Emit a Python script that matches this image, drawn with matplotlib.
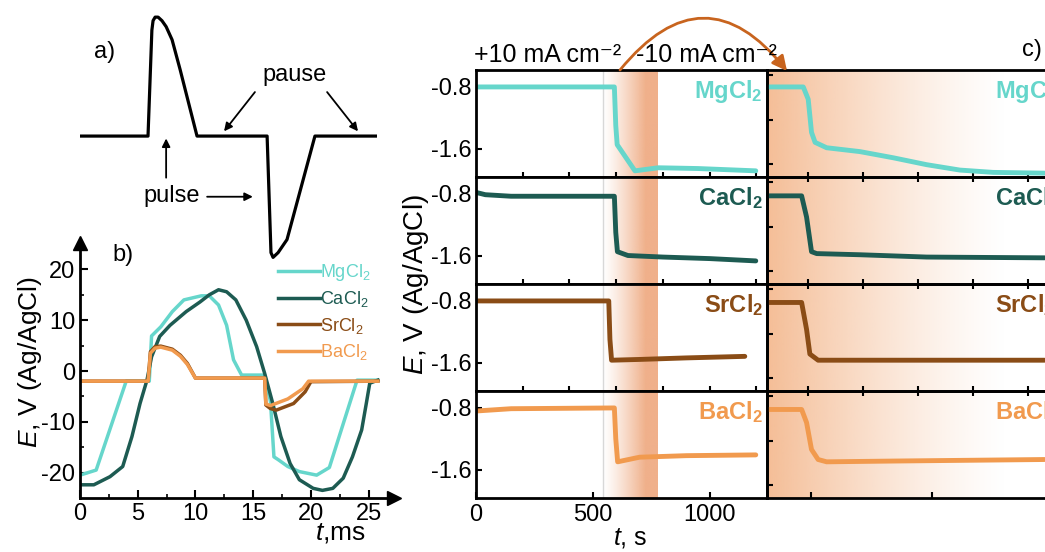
import numpy as np
import matplotlib
matplotlib.use("Agg")
import matplotlib.pyplot as plt

plt.rcParams['font.family'] = ['Liberation Sans', 'DejaVu Sans']
plt.rcParams['mathtext.fontset'] = 'custom'
plt.rcParams['mathtext.rm'] = 'Liberation Sans'
plt.rcParams['mathtext.it'] = 'Liberation Sans:italic'
plt.rcParams['mathtext.bf'] = 'Liberation Sans:bold'
plt.rcParams['axes.unicode_minus'] = False

# colours of the salts
MG = '#66d6cb'
CA = '#1d5b52'
SR = '#8a4c16'
BA = '#f19a4e'
ARC = '#c8641e'

salts = ['MgCl$_2$', 'CaCl$_2$', 'SrCl$_2$', 'BaCl$_2$']
salts_bold = ['MgCl$_\\mathbf{2}$', 'CaCl$_\\mathbf{2}$', 'SrCl$_\\mathbf{2}$', 'BaCl$_\\mathbf{2}$']
colors = [MG, CA, SR, BA]

# a) schematic pulse shape (arbitrary units)
scheme_t = [0, 22.9, 24.2, 24.6, 25.3, 26.3, 27.6, 29.0, 31.0, 33.7, 39.4,
            63.0, 64.3, 65.0, 66.7, 69.7, 79.1, 100]
scheme_a = [0, 0, 0.89, 0.97, 1.0, 1.0, 0.97, 0.92, 0.81, 0.56, 0,
            0, -0.98, -1.02, -0.98, -0.87, 0, 0]

# b) potential during one pulse period, ms / V
mg_t = [0, 1.4, 4.0, 6.0, 6.2, 7.0, 8.0, 9.0, 10.5, 11.2, 12.0, 12.7, 13.3, 14.0, 16.0,
        16.5, 16.8, 17.2, 18.0, 19.0, 20.5, 21.6, 24.0, 25.8]
mg_E = [-20.5, -19.5, -2.0, -2.0, 6.9, 8.7, 11.7, 14.0, 14.8, 14.8, 13.0, 9.0, 2.2, -0.8, -0.8,
        -6.0, -16.9, -17.5, -18.8, -19.8, -20.5, -19.0, -1.8, -1.8]
ca_t = [0, 1.2, 2.6, 3.7, 4.5, 5.2, 5.8, 6.2, 6.9, 7.8, 9.2, 10.4, 11.2, 12.0, 12.7, 13.5,
        14.4, 15.3, 16.0, 16.7, 17.4, 18.2, 19.0, 20.2, 21.0, 21.9, 22.8, 23.6, 24.4, 24.8, 25.1, 25.8]
ca_E = [-22.4, -22.4, -20.8, -18.8, -12.9, -6.4, -1.8, 2.8, 6.8, 9.0, 11.7, 13.6, 15.0, 16.0, 15.6, 14.0,
        10.0, 4.8, -0.5, -6.4, -12.9, -18.2, -21.4, -23.1, -23.5, -23.1, -21.1, -16.9, -11.6, -6.4, -2.4, -1.8]
sr_t = [0, 5.9, 6.1, 6.5, 7.0, 8.0, 8.7, 9.3, 10.0, 16.0, 16.1, 16.5, 17.0, 18.5, 19.5, 20.0, 25.8]
sr_E = [-2.0, -2.0, 3.8, 4.8, 4.9, 4.3, 3.1, 1.5, -1.4, -1.4, -6.7, -7.4, -7.7, -6.4, -4.1, -2.1, -2.0]
ba_t = [0, 5.9, 6.1, 6.5, 7.0, 8.0, 8.7, 9.3, 10.0, 16.0, 16.1, 16.5, 18.0, 19.3, 19.8, 25.8]
ba_E = [-2.0, -2.0, 3.5, 4.5, 4.7, 4.1, 2.9, 1.3, -1.4, -1.4, -6.5, -6.8, -5.5, -3.5, -2.0, -2.0]

# c) chronopotentiograms, s / V
c_mg_t = [0, 592, 598, 604, 680, 780, 950, 1197]
c_mg_E = [-0.8, -0.8, -1.3, -1.55, -1.89, -1.85, -1.86, -1.89]
c_ca_t = [0, 40, 150, 592, 598, 605, 650, 800, 1000, 1197]
c_ca_E = [-0.78, -0.81, -0.83, -0.83, -1.3, -1.55, -1.6, -1.62, -1.64, -1.67]
c_sr_t = [0, 568, 573, 580, 700, 900, 1150]
c_sr_E = [-0.8, -0.8, -1.3, -1.57, -1.56, -1.54, -1.52]
c_ba_t = [0, 150, 592, 598, 606, 700, 900, 1197]
c_ba_E = [-0.84, -0.81, -0.8, -1.2, -1.5, -1.44, -1.42, -1.41]

# c) zoomed step (arbitrary time units)
z_mg_t = [0, 13.2, 15.0, 16.2, 17.5, 21.7, 33.8, 45.9, 58.1, 70.2, 82.3, 101]
z_mg_E = [-0.8, -0.8, -0.96, -1.39, -1.52, -1.59, -1.64, -1.72, -1.81, -1.88, -1.91, -1.92]
z_ca_t = [0, 12.6, 14.4, 16.2, 18.1, 33.8, 58.1, 101]
z_ca_E = [-0.825, -0.825, -1.10, -1.55, -1.575, -1.59, -1.62, -1.63]
z_sr_t = [0, 12.6, 14.4, 15.6, 18.6, 33.8, 101]
z_sr_E = [-0.82, -0.82, -1.17, -1.49, -1.57, -1.57, -1.57]
z_ba_t = [0, 12.6, 14.4, 16.2, 18.6, 21.7, 45.9, 101]
z_ba_E = [-0.82, -0.82, -0.99, -1.34, -1.47, -1.50, -1.49, -1.47]

BAND_START = 543
BAND_END = 778

W, H = 1045, 552


def box(x0, y0, x1, y1):
    # pixel box -> figure fraction rect
    return [x0 / W, 1 - y1 / H, (x1 - x0) / W, (y1 - y0) / H]


fig = plt.figure(figsize=(W / 100, H / 100), dpi=100)

# ---------------- panel b ----------------
ax_b = fig.add_axes(box(80, 242.5, 394, 498))
ax_b.patch.set_visible(False)
for t, E, c, lab in zip([mg_t, ca_t, sr_t, ba_t], [mg_E, ca_E, sr_E, ba_E], colors, salts):
    ax_b.plot(t, E, color=c, lw=2.5, label=lab)
ax_b.set_xlim(0, 27.2)
ax_b.set_ylim(-25, 25.3)
ax_b.spines['top'].set_visible(False)
ax_b.spines['right'].set_visible(False)
ax_b.spines['left'].set_linewidth(2)
ax_b.spines['bottom'].set_linewidth(2)
ax_b.set_xticks([0, 5, 10, 15, 20, 25])
ax_b.set_xticks(np.arange(2.5, 26, 5), minor=True)
ax_b.set_yticks([-20, -10, 0, 10, 20])
ax_b.set_yticks([-15, -5, 5, 15], minor=True)
ax_b.tick_params(which='major', direction='in', length=6, width=1.5, labelsize=17)
ax_b.tick_params(which='minor', direction='in', length=3, width=1.2)
ax_b.plot(1, 0, '>', color='k', ms=10, transform=ax_b.transAxes, clip_on=False)
ax_b.plot(0, 1, '^', color='k', ms=10, transform=ax_b.transAxes, clip_on=False)
ax_b.text(2.85, 22.8, 'b)', fontsize=17, va='center')
leg = ax_b.legend(loc='upper left', bbox_to_anchor=(278 / W, 1 - 262 / H), bbox_transform=fig.transFigure,
                  frameon=False, fontsize=13, handlelength=2.3, handletextpad=0.05, labelspacing=0.35,
                  borderpad=0, borderaxespad=0, labelcolor='linecolor')
fig.text(30 / W, 1 - 362 / H, '$E$, V (Ag/AgCl)', rotation=90, fontsize=19, ha='center', va='center')
fig.text(340 / W, 1 - 533 / H, '$t$,ms', fontsize=19, ha='center', va='center')

# ---------------- panel a ----------------
ax_a = fig.add_axes(box(80, 10, 377, 265))
ax_a.patch.set_visible(False)
ax_a.axis('off')
ax_a.set_xlim(0, 100)
ax_a.set_ylim(-1.084, 1.06)
ax_a.plot(scheme_t, scheme_a, color='k', lw=2.3, solid_joinstyle='round')
ax_a.text(8.4, 0.706, 'a)', fontsize=17, ha='center', va='center')
ax_a.text(72.4, 0.51, 'pause', fontsize=17, ha='center', va='center')
ax_a.text(31, -0.50, 'pulse', fontsize=17, ha='center', va='center')
arr = dict(arrowstyle='-|>', lw=1.3, color='k', mutation_scale=12, shrinkA=0, shrinkB=0)
ax_a.annotate('', xy=(48.5, 0.04), xytext=(58.9, 0.37), arrowprops=arr)
ax_a.annotate('', xy=(93.6, 0.04), xytext=(83.2, 0.37), arrowprops=arr)
ax_a.annotate('', xy=(29, -0.02), xytext=(29, -0.35), arrowprops=arr)
ax_a.annotate('', xy=(58.2, -0.51), xytext=(42.8, -0.51), arrowprops=arr)

# ---------------- panel c ----------------
YLIM = (-1.97, -0.58)
rows_left = [(c_mg_t, c_mg_E), (c_ca_t, c_ca_E), (c_sr_t, c_sr_E), (c_ba_t, c_ba_E)]
rows_right = [(z_mg_t, z_mg_E), (z_ca_t, z_ca_E), (z_sr_t, z_sr_E), (z_ba_t, z_ba_E)]

# background gradient of the zoomed panel
ax_bg = fig.add_axes(box(767, 70, 1061, 498))
ax_bg.axis('off')
g = np.linspace(0, 1, 400)
bg = np.zeros((1, 400, 4))
bg[0, :, 0] = 243 / 255
bg[0, :, 1] = 178 / 255
bg[0, :, 2] = 132 / 255
bg[0, :, 3] = np.clip(1 - g / 0.82, 0, 1) ** 1.3 * 0.85
ax_bg.imshow(bg, extent=[0, 1, 0, 1], aspect='auto')
ax_bg.set_xlim(0, 1)
ax_bg.set_ylim(0, 1)

band_x = np.linspace(BAND_START, BAND_END, 300)
band = np.zeros((1, 300, 4))
band[0, :, 0] = 235 / 255
band[0, :, 1] = 150 / 255
band[0, :, 2] = 100 / 255
band[0, :, 3] = np.clip((band_x - BAND_START) / (725 - BAND_START), 0, 1) ** 1.2 * 0.75

for i in range(4):
    top = 70 + 107 * i
    axl = fig.add_axes(box(476, top, 767, top + 107))
    axr = fig.add_axes(box(767, top, 1061, top + 107))
    axr.patch.set_visible(False)

    axl.imshow(band, extent=[BAND_START, BAND_END, YLIM[0], YLIM[1]], aspect='auto', zorder=0)
    axl.axvline(BAND_START, color='#d8d8d8', lw=1, zorder=0)
    axl.plot(rows_left[i][0], rows_left[i][1], color=colors[i], lw=3.5, solid_capstyle='round')
    axl.set_xlim(0, 1245)
    axl.set_ylim(*YLIM)
    axl.text(1228, -0.95, salts_bold[i], color=colors[i], fontsize=17, fontweight='bold',
             ha='right', va='baseline')
    axl.set_yticks([-1.6, -0.8])
    axl.set_yticklabels(['-1.6', '-0.8'])
    axl.tick_params(axis='y', direction='in', length=4, width=1.5, labelsize=17, pad=3)

    axr.plot(rows_right[i][0], rows_right[i][1], color=colors[i], lw=3.5, solid_capstyle='round')
    axr.set_xlim(0, 107)
    axr.set_ylim(*YLIM)
    axr.text(83, -0.95, salts_bold[i], color=colors[i], fontsize=17, fontweight='bold',
             ha='left', va='baseline', clip_on=False)
    axr.set_yticks([-0.65, -1.23, -1.8])
    axr.tick_params(axis='y', direction='in', length=4, width=1.5, labelleft=False)

    if i < 3:
        axl.set_xticks(range(200, 1201, 200))
        axl.tick_params(axis='x', direction='inout', length=7, width=1.5, labelbottom=False)
        axr.set_xticks([15, 35, 55, 75, 95])
        axr.tick_params(axis='x', direction='inout', length=7, width=1.5, labelbottom=False)
    else:
        axl.set_xticks([0, 500, 1000])
        axl.tick_params(axis='x', direction='in', length=4, width=1.5, labelsize=17, pad=4)
        axr.set_xticks([16, 60])
        axr.tick_params(axis='x', direction='in', length=4, width=1.5, labelbottom=False)
    for a in (axl, axr):
        for s in a.spines.values():
            s.set_linewidth(2)

fig.text(416 / W, 1 - 285 / H, '$E$, V (Ag/AgCl)', rotation=90, fontsize=20, ha='center', va='center')
fig.text(630 / W, 1 - 538 / H, '$t$, s', fontsize=18, ha='center', va='center')
fig.text(548 / W, 1 - 55 / H, '+10 mA cm⁻²', fontsize=18, ha='center', va='center')
fig.text(706 / W, 1 - 55 / H, '-10 mA cm⁻²', fontsize=18, ha='center', va='center')
fig.text(1032 / W, 1 - 50 / H, 'c)', fontsize=17, ha='center', va='center')

fig.add_artist(matplotlib.patches.FancyArrowPatch(
    (620 / W, 1 - 70 / H), (787 / W, 1 - 71 / H), transform=fig.transFigure,
    connectionstyle='arc3,rad=-0.62', arrowstyle='-|>', mutation_scale=22,
    color=ARC, lw=2, shrinkA=0, shrinkB=0))

fig.savefig('out.png', dpi=100)
